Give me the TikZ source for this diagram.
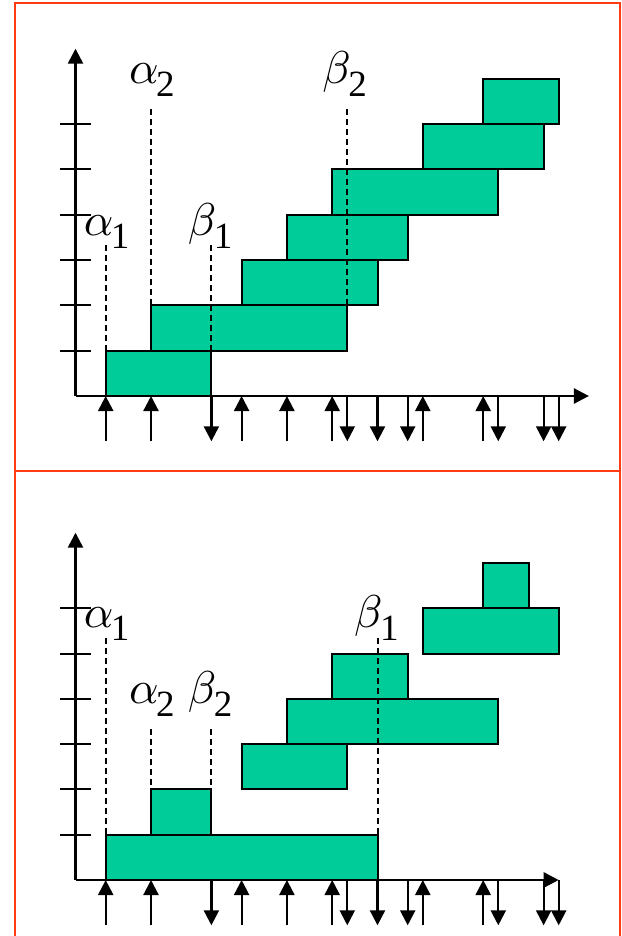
\documentclass[tikz,border=0pt]{standalone}
\usepackage{graphicx}
\usepackage{fontspec}
\setmainfont{Liberation Serif}
\usetikzlibrary{arrows.meta}
\definecolor{boxgreen}{HTML}{00CC99}
\definecolor{framered}{HTML}{FF3B14}
\newcommand\grk[2]{\scalebox{4.6}{$#1$}\kern-2.5pt\raisebox{-13pt}{\fontsize{37}{37}\selectfont #2}}
\tikzset{
  frameline/.style={draw=framered, line width=2pt},
  interval/.style={fill=boxgreen, draw=black, line width=2pt},
  guide/.style={draw=black, line width=2pt, dash pattern=on 6pt off 4pt},
  axisline/.style={draw=black, line width=2.5pt, -{Triangle[length=15pt,width=15pt]}},
  tickline/.style={draw=black, line width=2pt},
  evarrow/.style={draw=black, line width=2.2pt, -{Triangle[length=15pt,width=15pt]}},
  greeklabel/.style={anchor=base west, inner sep=0pt, outer sep=0pt},
}
\begin{document}
\begin{tikzpicture}[x=1pt, y=-1pt]
\useasboundingbox (0,0) rectangle (621,936);
% frame
\draw[frameline] (15,936) -- (15,3.5) -- (619.5,3.5) -- (619.5,936);
\draw[frameline] (15,471) -- (619.5,471);

% ---------------- top panel ----------------
\begin{scope}[shift={(105.7pt,-396pt)}, x=15.1pt, y=15.1pt]
  \foreach \a/\b/\l in {0/7/0, 3/16/1, 9/18/2, 12/20/3, 15/26/4, 21/29/5, 25/30/6}
    \draw[interval] (\a,3*\l) rectangle (\b,3*\l+3);
  \draw[guide] (0,10) -- (0,3);
  \draw[guide] (3,19) -- (3,6);
  \draw[guide] (7,10) -- (7,3);
  \draw[guide] (16,19) -- (16,6);
  \node[greeklabel] (ta1) at (-1.45,10.66) {\grk{\alpha}{1}};
  \node[greeklabel] (ta2) at (1.55,20.7) {\grk{\alpha}{2}};
  \node[greeklabel] (tb1) at (5.45,10.66) {\grk{\beta}{1}};
  \node[greeklabel] (tb2) at (14.35,20.7) {\grk{\beta}{2}};
  \draw[axisline] (-2,0) -- (-2,23);
  \draw[axisline] (-2,0) -- (32,0);
  \foreach \l in {1,...,6}
    \draw[tickline] (-3,3*\l) -- (-1,3*\l);
  \foreach \k in {0,3,9,12,15,21,25}
    \draw[evarrow] (\k,-3) -- (\k,0);
  \foreach \k in {7,16,18,20,26,29,30}
    \draw[evarrow] (\k,0) -- (\k,-3);
\end{scope}

% ---------------- bottom panel ----------------
\begin{scope}[shift={(105.7pt,-880pt)}, x=15.1pt, y=15.1pt]
  \foreach \a/\b/\l in {0/18/0, 3/7/1, 9/16/2, 12/26/3, 15/20/4, 21/30/5, 25/28/6}
    \draw[interval] (\a,3*\l) rectangle (\b,3*\l+3);
  \draw[guide] (0,16) -- (0,3);
  \draw[guide] (3,10) -- (3,6);
  \draw[guide] (7,10) -- (7,6);
  \draw[guide] (18,16) -- (18,3);
  \node[greeklabel] (ba1) at (-1.45,16.7) {\grk{\alpha}{1}};
  \node[greeklabel] (bb1) at (16.45,16.7) {\grk{\beta}{1}};
  \node[greeklabel] (ba2) at (1.55,11.7) {\grk{\alpha}{2}};
  \node[greeklabel] (bb2) at (5.45,11.7) {\grk{\beta}{2}};
  \draw[axisline] (-2,0) -- (-2,23);
  \draw[axisline] (-2,0) -- (30,0);
  \foreach \l in {1,...,6}
    \draw[tickline] (-3,3*\l) -- (-1,3*\l);
  \foreach \k in {0,3,9,12,15,21,25}
    \draw[evarrow] (\k,-3) -- (\k,0);
  \foreach \k in {7,16,18,20,26,29,30}
    \draw[evarrow] (\k,0) -- (\k,-3);
\end{scope}
\end{tikzpicture}
\end{document}
